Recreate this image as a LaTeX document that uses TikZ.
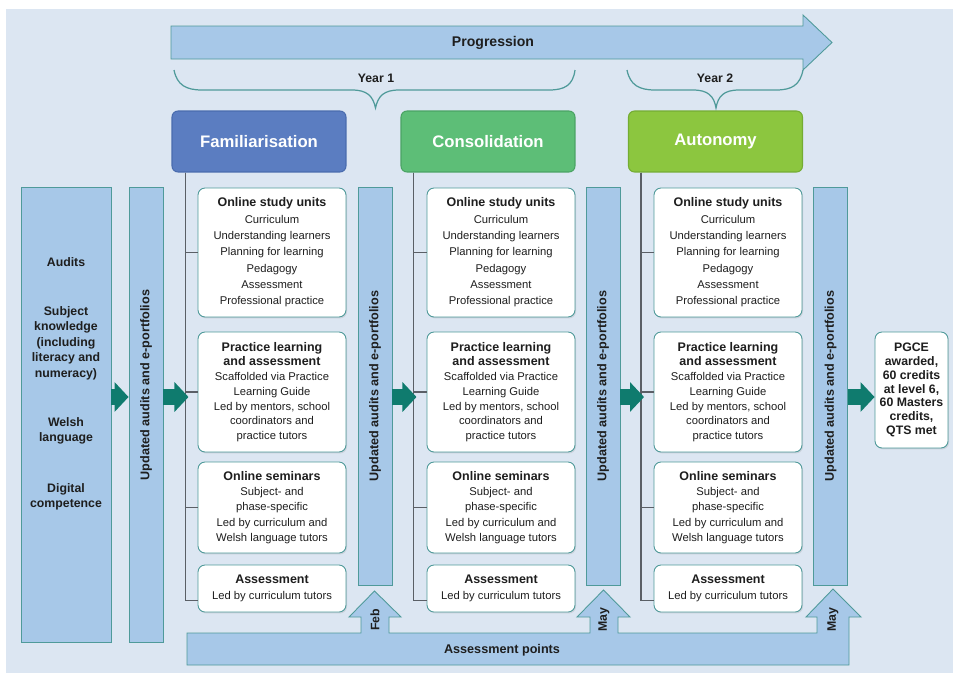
\documentclass[tikz,border=0pt]{standalone}
\usepackage{fontspec}
\setmainfont{Liberation Sans}
\usetikzlibrary{arrows.meta,calc,shadows}

\definecolor{bgblue}{HTML}{DCE6F2}
\definecolor{barblue}{HTML}{A7C8E8}
\definecolor{edgeteal}{HTML}{4F9A9A}
\definecolor{arrteal}{HTML}{0F7B6E}
\definecolor{famblue}{HTML}{5B7DC1}
\definecolor{famedge}{HTML}{4A6CAE}
\definecolor{congreen}{HTML}{5DBE77}
\definecolor{conedge}{HTML}{4AA364}
\definecolor{autgreen}{HTML}{8CC63F}
\definecolor{autedge}{HTML}{74AC33}
\definecolor{treegray}{HTML}{5A5F66}
\definecolor{inkgray}{HTML}{1E1E1E}

\newcommand{\unittitle}[1]{{\fontsize{7.1}{8.8}\selectfont\bfseries #1}}

\begin{document}
\begin{tikzpicture}[x=0.02cm,y=-0.02cm,
    unitbox/.style={draw=edgeteal, fill=white, rounded corners=0.14cm, line width=0.5pt,
      minimum width=2.96cm, inner sep=0pt, align=center, text=inkgray,
      drop shadow={shadow xshift=0.6pt, shadow yshift=-0.8pt, opacity=0.2}},
    phasebox/.style={rounded corners=0.12cm, line width=0.6pt, minimum width=3.48cm,
      minimum height=1.22cm, text=white, font=\fontsize{9.5}{11}\selectfont\bfseries},
    auditbar/.style={draw=edgeteal, fill=barblue, line width=0.5pt, minimum width=0.68cm, inner sep=0pt},
    bartext/.style={rotate=90, font=\fontsize{7.2}{8}\selectfont\bfseries, text=inkgray},
    blockarr/.style={draw=arrteal, line width=0.32cm, -{Triangle[width=0.58cm,length=0.28cm]}},
    treeline/.style={draw=treegray, line width=0.6pt},
    yearbrace/.style={draw=edgeteal, line width=0.7pt},
    boldlabel/.style={font=\fontsize{7}{8}\selectfont\bfseries, text=inkgray}]

    \useasboundingbox (0,0) rectangle (953,673);
    \fill[bgblue] (6,9) rectangle (953,673);

    % Progression arrow on top
    \draw[draw=edgeteal, fill=barblue, line width=0.5pt] (171,26) -- (803,26) -- (803,15)
      -- (832,42.5) -- (803,70) -- (803,59) -- (171,59) -- cycle;
    \node[font=\fontsize{8}{9}\selectfont\bfseries, text=inkgray] (prog) at (493,42.5) {Progression};

    % Year braces
    \draw[yearbrace] (174,70) .. controls (177,85) and (186,90) .. (202,90) -- (352,90)
      .. controls (367,90) and (373,96) .. (375.5,108) .. controls (378,96) and (384,90) .. (399,90)
      -- (549,90) .. controls (565,90) and (573,85) .. (575,70);
    \node[boldlabel] (year1) at (376,78) {Year 1};
    \draw[yearbrace] (627,70) .. controls (630,85) and (639,90) .. (655,90) -- (693,90)
      .. controls (708,90) and (714,96) .. (716,108) .. controls (718,96) and (724,90) .. (739,90)
      -- (776,90) .. controls (792,90) and (800,85) .. (803,70);
    \node[boldlabel] (year2) at (715,78) {Year 2};

    % Phase headers
    \node[phasebox, fill=famblue, draw=famedge] (fam) at (259,141.5) {Familiarisation};
    \node[phasebox, fill=congreen, draw=conedge] (con) at (488,141.5) {Consolidation};
    \node[phasebox, fill=autgreen, draw=autedge] (aut) at (715.5,141.5) {Autonomy};

    % Audits box and first bar
    \node[auditbar, minimum width=1.8cm, minimum height=9.1cm] (audits) at (66,414.5) {};
    \node[boldlabel, font=\fontsize{7}{8.8}\selectfont\bfseries, align=center] (audtext) at (66,384)
      {Audits\\[19pt]Subject\\knowledge\\(including\\literacy and\\numeracy)\\[19pt]Welsh\\language\\[20pt]Digital\\competence};
    \node[auditbar, minimum height=9.1cm] (bar1) at (146,414.5) {};
    \node[bartext] (bar1t) at (146,385) {Updated audits and e-portfolios};

    % Column 1
    \node[unitbox, minimum height=2.58cm, font=\fontsize{6.4}{9.3}\selectfont] (c1a) at (272,252.5)
      {\unittitle{Online study units}\\Curriculum\\Understanding learners\\Planning for learning\\Pedagogy\\Assessment\\Professional practice};
    \node[unitbox, minimum height=2.40cm, font=\fontsize{6.4}{8.4}\selectfont] (c1b) at (272,392)
      {\unittitle{Practice learning}\\\unittitle{and assessment}\\Scaffolded via Practice\\Learning Guide\\Led by mentors, school\\coordinators and\\practice tutors};
    \node[unitbox, minimum height=1.82cm, font=\fontsize{6.4}{8.7}\selectfont] (c1c) at (272,507.5)
      {\unittitle{Online seminars}\\Subject- and\\phase-specific\\Led by curriculum and\\Welsh language tutors};
    \node[unitbox, minimum height=0.94cm, font=\fontsize{6.4}{9}\selectfont] (c1d) at (272,588.5)
      {\unittitle{Assessment}\\Led by curriculum tutors};
    \coordinate (t1) at ($(fam.south west)+(14,0)$);
    \draw[treeline] (t1) |- (c1a.west);
    \draw[treeline] (t1) |- (c1b.west);
    \draw[treeline] (t1) |- (c1c.west);
    \draw[treeline] (t1) |- ($(c1d.west)+(0,12)$);
    \node[auditbar, minimum height=7.96cm] (bar2) at (375,386) {};
    \node[bartext] (bar2t) at (bar2) {Updated audits and e-portfolios};

    % Column 2
    \node[unitbox, minimum height=2.58cm, font=\fontsize{6.4}{9.3}\selectfont] (c2a) at (501,252.5)
      {\unittitle{Online study units}\\Curriculum\\Understanding learners\\Planning for learning\\Pedagogy\\Assessment\\Professional practice};
    \node[unitbox, minimum height=2.40cm, font=\fontsize{6.4}{8.4}\selectfont] (c2b) at (501,392)
      {\unittitle{Practice learning}\\\unittitle{and assessment}\\Scaffolded via Practice\\Learning Guide\\Led by mentors, school\\coordinators and\\practice tutors};
    \node[unitbox, minimum height=1.82cm, font=\fontsize{6.4}{8.7}\selectfont] (c2c) at (501,507.5)
      {\unittitle{Online seminars}\\Subject- and\\phase-specific\\Led by curriculum and\\Welsh language tutors};
    \node[unitbox, minimum height=0.94cm, font=\fontsize{6.4}{9}\selectfont] (c2d) at (501,588.5)
      {\unittitle{Assessment}\\Led by curriculum tutors};
    \coordinate (t2) at ($(con.south west)+(13,0)$);
    \draw[treeline] (t2) |- (c2a.west);
    \draw[treeline] (t2) |- (c2b.west);
    \draw[treeline] (t2) |- (c2c.west);
    \draw[treeline] (t2) |- ($(c2d.west)+(0,12)$);
    \node[auditbar, minimum height=7.96cm] (bar3) at (603,386) {};
    \node[bartext] (bar3t) at (bar3) {Updated audits and e-portfolios};

    % Column 3
    \node[unitbox, minimum height=2.58cm, font=\fontsize{6.4}{9.3}\selectfont] (c3a) at (728,252.5)
      {\unittitle{Online study units}\\Curriculum\\Understanding learners\\Planning for learning\\Pedagogy\\Assessment\\Professional practice};
    \node[unitbox, minimum height=2.40cm, font=\fontsize{6.4}{8.4}\selectfont] (c3b) at (728,392)
      {\unittitle{Practice learning}\\\unittitle{and assessment}\\Scaffolded via Practice\\Learning Guide\\Led by mentors, school\\coordinators and\\practice tutors};
    \node[unitbox, minimum height=1.82cm, font=\fontsize{6.4}{8.7}\selectfont] (c3c) at (728,507.5)
      {\unittitle{Online seminars}\\Subject- and\\phase-specific\\Led by curriculum and\\Welsh language tutors};
    \node[unitbox, minimum height=0.94cm, font=\fontsize{6.4}{9}\selectfont] (c3d) at (728,588.5)
      {\unittitle{Assessment}\\Led by curriculum tutors};
    \coordinate (t3) at ($(aut.south west)+(13,0)$);
    \draw[treeline] (t3) |- (c3a.west);
    \draw[treeline] (t3) |- (c3b.west);
    \draw[treeline] (t3) |- (c3c.west);
    \draw[treeline] (t3) |- ($(c3d.west)+(0,12)$);
    \node[auditbar, minimum height=7.96cm] (bar4) at (830.5,386) {};
    \node[bartext] (bar4t) at (bar4) {Updated audits and e-portfolios};

    % Outcome box
    \node[unitbox, minimum width=1.46cm, minimum height=2.32cm, font=\fontsize{7}{7.8}\selectfont\bfseries] (pgce) at (911.5,390)
      {PGCE\\awarded,\\60 credits\\at level 6,\\60 Masters\\credits,\\QTS met};

    % Teal arrows
    \coordinate (ay) at (0,397);
    \draw[blockarr] (audits.east |- ay) -- (bar1.west |- ay);
    \draw[blockarr] (bar1.east |- ay) -- ($(t1 |- ay)+(3,0)$);
    \draw[blockarr] (bar2.east |- ay) -- ($(t2 |- ay)+(3,0)$);
    \draw[blockarr] (bar3.east |- ay) -- ($(t3 |- ay)+(3,0)$);
    \draw[blockarr] (bar4.east |- ay) -- (pgce.west |- ay);

    % Assessment points
    \draw[draw=edgeteal, fill=barblue, line width=0.5pt] (187,633) -- (361,633) -- (361,617) -- (349,617)
      -- (374.5,591) -- (401,617) -- (389,617) -- (389,633) -- (590,633) -- (590,617) -- (577,617)
      -- (603.5,590) -- (630,617) -- (618,617) -- (618,633) -- (817,633) -- (817,617) -- (806,617)
      -- (833,589) -- (861,617) -- (849,617) -- (849,665) -- (187,665) -- cycle;
    \node[boldlabel, rotate=90] (feb) at (375,620) {Feb};
    \node[boldlabel, rotate=90] (may1) at (604,620) {May};
    \node[boldlabel, rotate=90] (may2) at (833,620) {May};
    \node[font=\fontsize{7.2}{8}\selectfont\bfseries, text=inkgray] (points) at (502,650) {Assessment points};
\end{tikzpicture}
\end{document}
